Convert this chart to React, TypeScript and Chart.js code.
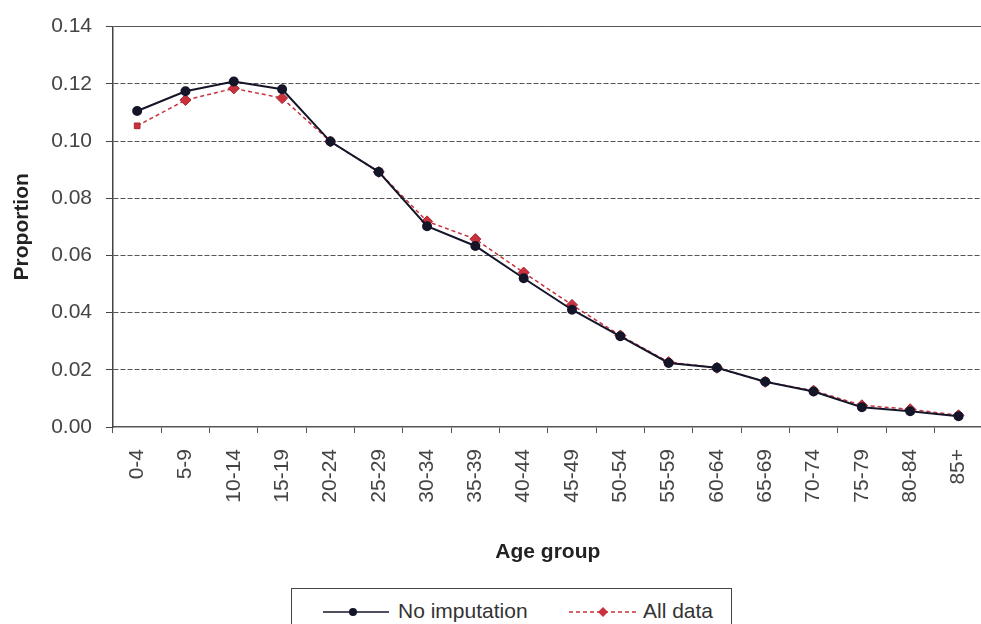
import { useEffect, useRef } from 'react';
import { Chart, registerables } from 'chart.js';

Chart.register(...registerables);

const ageGroups = [
  '0-4', '5-9', '10-14', '15-19', '20-24', '25-29', '30-34', '35-39', '40-44',
  '45-49', '50-54', '55-59', '60-64', '65-69', '70-74', '75-79', '80-84', '85+',
];
const noImputation = [
  0.1105, 0.1174, 0.1208, 0.1181, 0.0998, 0.0892, 0.0702, 0.0633, 0.052,
  0.041, 0.0317, 0.0224, 0.0207, 0.0158, 0.0124, 0.0069, 0.0055, 0.0038,
];
const allData = [
  0.1053, 0.1143, 0.1184, 0.115, 0.0998, 0.0892, 0.0719, 0.0657, 0.054,
  0.0427, 0.032, 0.0227, 0.0207, 0.0158, 0.0127, 0.0076, 0.0062, 0.0041,
];
const yTicks = [0, 0.02, 0.04, 0.06, 0.08, 0.1, 0.12, 0.14];

const BLACK = '#15152a';
const RED = '#c8313d';
const FONT = '"Liberation Sans", Arial, sans-serif';

function LegendBox() {
  return (
    <div
      style={{
        position: 'absolute', left: 291, top: 588, width: 439, height: 70,
        border: '1.5px solid #444', background: '#fff', fontFamily: FONT,
        fontSize: 21, color: '#333',
      }}
    >
      <svg width={70} height={14} style={{ position: 'absolute', left: 31, top: 16 }}>
        <line x1={0} y1={7} x2={66} y2={7} stroke={BLACK} strokeWidth={1.5} />
        <circle cx={30} cy={7} r={4} fill={BLACK} />
      </svg>
      <span style={{ position: 'absolute', left: 106, top: 10 }}>No imputation</span>
      <svg width={72} height={14} style={{ position: 'absolute', left: 277, top: 16 }}>
        <line x1={0} y1={7} x2={70} y2={7} stroke={RED} strokeWidth={1.5} strokeDasharray="4 3" />
        <path d="M34 2 L39 7 L34 12 L29 7 Z" fill={RED} />
      </svg>
      <span style={{ position: 'absolute', left: 351, top: 10 }}>All data</span>
    </div>
  );
}

export default function App() {
  const canvasRef = useRef<HTMLCanvasElement>(null);
  const chartRef = useRef<Chart | null>(null);

  useEffect(() => {
    document.body.style.margin = '0';
    chartRef.current?.destroy();
    if (!canvasRef.current) return undefined;

    const isVal = (v: number, t: number) => Math.abs(v - t) < 1e-9;

    chartRef.current = new Chart(canvasRef.current, {
      type: 'line',
      data: {
        labels: ageGroups,
        datasets: [
          {
            label: 'No imputation',
            data: noImputation,
            borderColor: BLACK,
            borderWidth: 2,
            pointStyle: 'circle',
            pointRadius: 4,
            pointBackgroundColor: BLACK,
            pointBorderColor: BLACK,
            tension: 0,
          },
          {
            label: 'All data',
            data: allData,
            borderColor: RED,
            borderWidth: 1.5,
            borderDash: [4, 3],
            pointStyle: allData.map((_, i) => (i === 0 ? 'rect' : 'rectRot')),
            pointRadius: allData.map((_, i) => (i === 0 ? 4 : 5.5)),
            pointBackgroundColor: RED,
            pointBorderColor: '#a82630',
            pointBorderWidth: 1,
            tension: 0,
          },
        ],
      },
      options: {
        animation: false,
        responsive: true,
        maintainAspectRatio: false,
        layout: { padding: { top: 20, right: 10, bottom: 55, left: 0 } },
        font: { family: FONT },
        plugins: {
          legend: { display: false },
          tooltip: { enabled: false },
        },
        scales: {
          x: {
            offset: true,
            afterFit: (s: any) => { s.height = 142; },
            grid: {
              offset: true,
              drawOnChartArea: false,
              drawTicks: true,
              tickLength: 6,
              color: '#555',
            },
            border: { display: true, color: '#555', width: 1.5 },
            ticks: {
              minRotation: 90,
              maxRotation: 90,
              autoSkip: false,
              padding: 16,
              color: '#444',
              font: { family: FONT, size: 21 },
            },
            title: {
              display: true,
              text: 'Age group',
              color: '#222',
              font: { family: FONT, size: 21, weight: 'bold' },
              padding: { top: 4, bottom: 4 },
            },
          },
          y: {
            min: 0,
            max: 0.14,
            afterFit: (s: any) => { s.width = 113; },
            afterBuildTicks: (s: any) => { s.ticks = yTicks.map(value => ({ value })); },
            grid: {
              color: (ctx: any) => (isVal(ctx.tick?.value ?? -1, 0) ? 'rgba(0,0,0,0)' : '#555'),
              lineWidth: 1,
              tickLength: 7,
              tickColor: '#444',
              tickBorderDash: [],
            },
            border: {
              display: true,
              color: '#444',
              width: 1.5,
              dash: (ctx: any) => (isVal(ctx.tick?.value ?? -1, 0.14) ? [] : [5, 2]),
            },
            ticks: {
              padding: 14,
              color: '#444',
              font: { family: FONT, size: 21 },
              callback: (v: any) => Number(v).toFixed(2),
            },
            title: {
              display: true,
              text: 'Proportion',
              color: '#222',
              font: { family: FONT, size: 21, weight: 'bold' },
              padding: { top: 10, bottom: 4 },
            },
          },
        },
      },
    });

    return () => {
      chartRef.current?.destroy();
      chartRef.current = null;
    };
  }, []);

  return (
    <div style={{ position: 'relative', width: 981, height: 624, overflow: 'hidden', background: '#fff' }}>
      <div style={{ position: 'absolute', left: 0, top: 0, width: 1000, height: 624 }}>
        <canvas ref={canvasRef} />
      </div>
      <LegendBox />
    </div>
  );
}
